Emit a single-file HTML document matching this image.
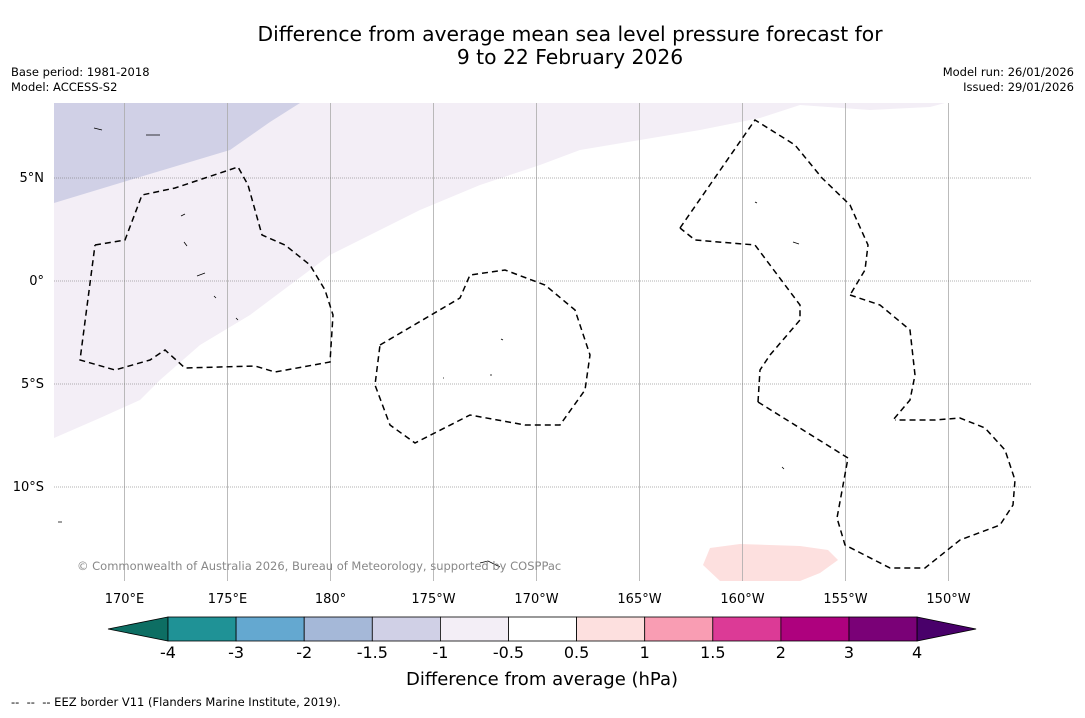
<!DOCTYPE html>
<html><head><meta charset="utf-8"><style>
body{margin:0;background:#fff;font-family:"Liberation Sans","DejaVu Sans",sans-serif;}
svg text{font-family:"DejaVu Sans","Liberation Sans",sans-serif;}
</style></head><body>
<svg id="chart" width="1085" height="713" xmlns="http://www.w3.org/2000/svg">
<rect width="1085" height="713" fill="#fff"/>
<text x="570" y="41" font-size="20.3" text-anchor="middle">Difference from average mean sea level pressure forecast for</text>
<text x="570" y="64" font-size="20.3" text-anchor="middle">9 to 22 February 2026</text>
<text x="11" y="76" font-size="11.5">Base period: 1981-2018</text>
<text x="11" y="91" font-size="11.5">Model: ACCESS-S2</text>
<text x="1074" y="76" font-size="11.5" text-anchor="end">Model run: 26/01/2026</text>
<text x="1074" y="91" font-size="11.5" text-anchor="end">Issued: 29/01/2026</text>
<g id="map">
<clipPath id="mc"><rect x="54" y="103" width="977" height="478"/></clipPath>
<g clip-path="url(#mc)">
<polygon fill="#f3eef6" points="54,103 945,103 930,107 870,110 800,105 760,118 700,130 640,140 580,150 540,165 480,185 420,210 370,235 330,255 290,285 250,315 200,345 160,380 140,400 100,418 54,438"/>
<polygon fill="#d0d0e6" points="54,103 300,103 270,122 230,150 180,165 120,183 54,203"/>
<polygon fill="#fde0df" points="710,548 740,544 800,546 828,550 838,560 820,573 800,581 720,581 703,565"/>
<g id="grid"></g>
<g fill="none" stroke="#000" stroke-width="1.5" stroke-dasharray="6,4">
<polyline points="95,245 125,240 142,195 175,188 205,178 238,167 248,185 262,235 285,245 310,265 325,290 333,315 330,362 275,372 255,366 185,368 165,350 150,360 115,370 80,360 95,245"/>
<polyline points="380,345 460,298 470,275 505,270 545,285 575,310 590,355 585,390 560,425 525,425 470,415 415,443 390,425 375,385 380,345"/>
<polyline points="680,228 755,120 795,145 822,178 850,205 868,245 865,270 850,295"/>
<polyline points="850,295 880,305 910,330 915,375 910,400 893,420"/>
<polyline points="758,402 760,370 770,355 800,320 800,305 755,245 695,240 680,228"/>
<polyline points="758,402 848,458 837,518 845,545 890,568 925,568 960,540 1000,525 1013,505 1015,480 1005,450 985,428 960,418 935,420 895,420"/>
</g>
<g fill="none" stroke="#000" stroke-width="0.8">
<path d="M146 135h14M94 128l8 2M181 216l4-2M184 242l3 4M197 276l8-3M501 339l2 1M755 202l2 1M793 242l6 2M782 467l2 2M480 563l8-2l12 6M58 522h4M214 296l2 2M236 318l2 2M443 378h1M490 375h2"/>
</g>
</g>
</g>
<text x="77" y="570" font-size="11.5" fill="#888">© Commonwealth of Australia 2026, Bureau of Meteorology, supported by COSPPac</text>
<g id="ticks"></g>
<g id="cbar"></g>
<text x="542" y="685" font-size="18" text-anchor="middle">Difference from average (hPa)</text>
<text x="11" y="706" font-size="11.5" xml:space="preserve">--  --  -- EEZ border V11 (Flanders Marine Institute, 2019).</text>
</svg>
<script>
const lonLabels=["170°E","175°E","180°","175°W","170°W","165°W","160°W","155°W","150°W"];
const lonValues=[170,175,180,185,190,195,200,205,210];
const latLabels=["5°N","0°","5°S","10°S"];
const latValues=[5,0,-5,-10];
const levelLabels=["-4","-3","-2","-1.5","-1","-0.5","0.5","1","1.5","2","3","4"];
const levelColors=["#1f9296","#64a8d0","#a5b8d8","#d0d0e6","#f3eef6","#ffffff","#fde0df","#f99db3","#dc3a96","#ae017e","#7a0177"];
const xLon=v=>Math.round(124+(v-170)*20.6)+0.5;
const yLat=v=>281-v*20.6;
const NS="http://www.w3.org/2000/svg";
function mk(t,a,p){const e=document.createElementNS(NS,t);for(const k in a)e.setAttribute(k,a[k]);p.appendChild(e);return e;}
const grid=document.getElementById('grid'),ticks=document.getElementById('ticks');
lonValues.forEach((v,i)=>{
 const l=mk('line',{x1:xLon(v),x2:xLon(v),y1:103,y2:581,stroke:'#aaa','stroke-width':0.8},grid);
 
 
 const t=mk('text',{x:xLon(v),y:603,'font-size':13,'text-anchor':'middle'},ticks);t.textContent=lonLabels[i];
 
 
});
latValues.forEach((v,i)=>{
 const l=mk('line',{x1:54,x2:1031,y1:yLat(v),y2:yLat(v),stroke:'#666','stroke-width':0.6,'stroke-dasharray':'1,1'},grid);
 
 
 const t=mk('text',{x:44,y:yLat(v)+4,'font-size':13,'text-anchor':'end'},ticks);t.textContent=latLabels[i];
 
 
});
const cb=document.getElementById('cbar');
const x0=168,w=68.1,y0=617,h=24;
const lt=mk('polygon',{points:`108,${y0+h/2} ${x0},${y0} ${x0},${y0+h}`,fill:'#0d6e63',stroke:'#000','stroke-width':0.8},cb);


levelColors.forEach((c,i)=>{
 const r=mk('rect',{x:x0+i*w,y:y0,width:w,height:h,fill:c,stroke:'#000','stroke-width':0.8},cb);
 
 
});
const xe=x0+levelColors.length*w;
const rt=mk('polygon',{points:`${xe},${y0} ${xe+59},${y0+h/2} ${xe},${y0+h}`,fill:'#49006a',stroke:'#000','stroke-width':0.8},cb);


levelLabels.forEach((s,i)=>{
 const t=mk('text',{x:x0+i*w,y:658,'font-size':16,'text-anchor':'middle'},cb);t.textContent=s;
 
 
});
</script>
</body></html>
